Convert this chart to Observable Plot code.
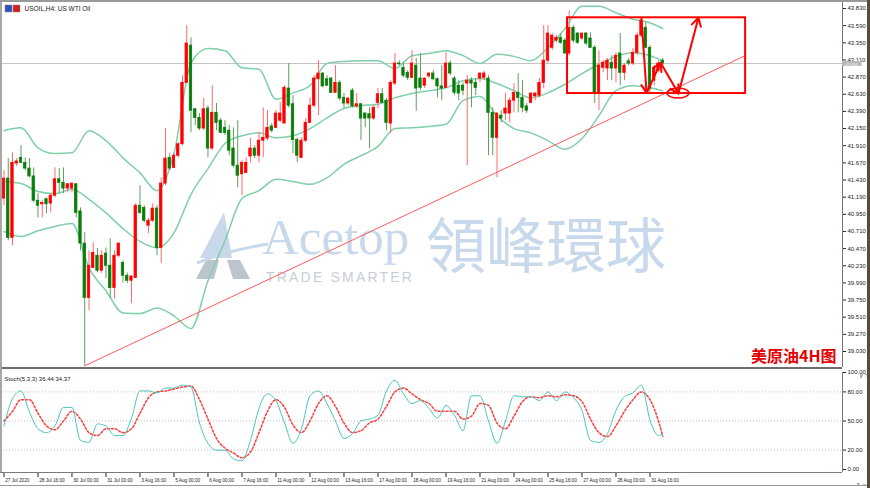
<!DOCTYPE html>
<html><head><meta charset="utf-8">
<script src="https://cdn.jsdelivr.net/npm/d3@7"></script>
<script src="https://cdn.jsdelivr.net/npm/@observablehq/plot@0.6"></script>
<style>
body{margin:0;background:#fff;}
#wrap{position:relative;width:870px;height:488px;overflow:hidden;background:#fff;font-family:"Liberation Sans",sans-serif;}
#wm{position:absolute;left:0;top:0;}
#main{position:absolute;left:0;top:0;}
#stoch{position:absolute;left:0;top:369px;}
.sep{position:absolute;left:0;top:367px;width:842px;height:2px;background:#6e6e6e;}
.bl{position:absolute;left:0;top:0;width:2px;height:472px;background:#a8a8a8;}
.bt{position:absolute;left:0;top:0;width:870px;height:2px;background:#9a9a9a;}
.br{position:absolute;left:867px;top:0;width:3px;height:488px;background:#5a4a3a;}
.bb{position:absolute;left:0;top:485px;width:867px;height:1px;background:#9a9a9a;}
</style></head><body><div id="wrap">
<svg id="wm" width="870" height="488">
  <polygon points="200,258 224,212 232,258" fill="#c9d8ea"/>
  <polygon points="196,279 206,260 219,260 214,279" fill="#bcc5ce"/>
  <polygon points="227,260 240,260 250,279 233,279" fill="#bcc5ce"/>
  <path d="M197,263 Q230,250 268,244" stroke="#c9d8ea" stroke-width="3" fill="none"/>
  <text x="262" y="254" font-family="Liberation Serif" font-size="51" fill="#c9d9ec">Acetop</text>
  <text x="266" y="282" font-family="Liberation Sans" font-size="14" letter-spacing="2.2" fill="#c8ced5">TRADE SMARTER</text>
  <text x="426" y="268" font-family="Noto Sans CJK TC" font-size="60" fill="#c9d9ec">領峰環球</text>
</svg>
<div id="main"></div><div id="stoch"></div>
<div class="sep"></div><div class="bl"></div><div class="bt"></div><div class="br"></div><div class="bb"></div>
</div>
<script>
// ---- data (H4 bars, index 0 = 27 Jul 2020 00:00) ----
const opens = [41.17,41.45,40.62,41.66,41.74,41.67,41.59,41.48,41.14,41.09,
41.16,41.10,41.21,41.44,41.39,41.31,41.31,41.37,40.99,40.54,
39.78,40.20,40.37,40.16,40.40,40.23,39.92,40.37,40.27,40.09,
40.02,40.06,41.07,41.04,40.79,40.86,41.03,40.48,41.38,41.74,
41.60,41.77,41.93,42.79,43.31,42.42,42.30,42.15,42.43,41.87,
42.37,42.26,42.16,42.12,41.87,41.63,41.51,41.53,41.76,41.87,
41.77,41.98,42.01,42.18,42.16,42.26,42.22,42.71,42.49,41.99,
41.74,41.98,42.23,42.47,42.84,42.92,42.84,42.85,42.65,42.79,
42.58,42.50,42.68,42.46,42.49,42.36,42.35,42.29,42.51,42.63,
42.54,42.22,42.78,43.06,43.00,42.93,42.86,43.03,42.85,42.75,
42.88,42.92,42.84,42.74,42.72,43.06,42.85,42.75,42.75,42.78,
42.82,42.79,42.85,42.86,42.85,42.37,42.02,42.33,42.36,42.36,
42.54,42.65,42.58,42.46,42.51,42.60,42.61,42.79,43.10,43.28,
43.38,43.42,43.38,43.20,43.56,43.48,43.41,43.48,43.41,43.28,
42.64,43.00,42.99,43.07,42.99,43.20,42.93,43.09,43.06,43.21,
43.45,43.56,43.28,42.82,42.96,43.10];
const highs = [41.56,41.73,41.81,41.73,41.91,41.74,41.73,41.60,41.24,41.14,
41.18,41.24,41.60,41.59,41.60,41.38,41.38,41.38,41.04,40.69,
40.44,40.55,40.47,40.44,40.48,40.61,40.44,40.55,40.30,40.13,
40.09,41.10,41.35,41.07,40.89,41.10,41.07,41.46,42.15,41.80,
41.80,41.95,42.89,43.59,43.42,42.43,42.36,42.57,42.47,42.75,
42.50,42.29,42.26,42.19,42.16,42.26,41.70,41.74,42.01,41.91,
42.09,42.44,42.40,42.22,42.40,42.51,42.75,43.06,42.61,42.02,
42.02,42.29,42.58,42.89,43.10,42.93,42.89,42.86,43.03,42.82,
42.64,42.58,42.71,42.64,42.50,42.37,42.44,42.47,42.71,42.71,
42.57,42.82,43.20,43.10,43.07,42.96,43.24,43.13,43.20,42.82,
42.93,42.96,42.86,43.03,43.21,43.10,42.88,42.82,42.79,42.89,
42.86,42.85,42.93,42.95,42.89,42.44,42.37,42.40,42.64,42.58,
42.78,42.92,42.82,42.50,42.65,42.65,42.85,43.59,43.59,43.48,
43.45,43.48,43.41,43.80,43.59,43.49,43.48,43.49,43.49,43.31,
43.24,43.10,43.13,43.17,43.21,43.48,43.06,43.13,43.27,43.49,
43.69,43.63,43.31,43.03,43.10,43.13];
const lows = [41.07,40.58,40.51,41.62,41.66,41.56,41.46,41.11,40.90,40.90,
40.96,40.97,41.18,41.24,41.24,41.25,41.25,40.90,40.44,38.83,
39.60,40.19,40.13,40.12,40.05,39.77,39.77,40.34,39.99,39.98,
39.70,40.06,40.95,40.83,40.68,40.83,40.37,40.26,41.35,41.56,
41.59,41.74,41.91,42.78,42.09,42.19,42.12,42.12,41.74,41.84,
42.12,42.08,42.05,41.77,41.60,41.32,41.21,41.52,41.67,41.73,
41.67,41.74,41.98,42.09,42.15,42.23,42.22,42.44,41.80,41.67,
41.73,41.95,42.22,42.44,42.33,42.72,42.74,42.64,42.65,42.54,
42.43,42.47,42.44,42.43,41.98,42.16,41.87,42.26,42.43,42.50,
42.12,42.08,42.75,43.02,42.86,42.82,42.85,42.39,42.68,42.71,
42.85,42.82,42.58,42.54,42.71,42.89,42.61,42.54,42.61,41.63,
42.44,42.61,42.79,42.82,41.77,41.77,41.46,42.23,42.26,42.23,
42.37,42.37,42.37,42.36,42.51,42.54,42.58,42.71,43.06,43.24,
43.35,43.33,43.20,43.17,43.35,43.33,43.38,43.31,43.27,42.50,
42.40,42.93,42.82,42.82,42.79,42.75,42.82,43.03,43.03,43.17,
43.42,43.27,42.64,42.75,42.93,43.03];
const closes = [41.45,40.62,41.67,41.69,41.67,41.59,41.48,41.14,41.07,41.11,
41.09,41.21,41.44,41.39,41.31,41.37,41.38,40.97,40.54,39.78,
40.23,40.41,40.16,40.37,40.23,39.92,40.37,40.54,40.09,40.02,
40.08,41.07,40.97,40.86,40.86,41.03,40.48,41.38,41.73,41.59,
41.77,41.93,42.79,43.34,42.40,42.30,42.15,42.42,41.87,42.37,
42.23,42.09,42.09,41.84,41.63,41.49,41.67,41.67,41.87,41.77,
41.98,42.02,42.16,42.12,42.36,42.36,42.72,42.47,41.99,41.77,
41.98,42.23,42.47,42.85,42.92,42.74,42.75,42.65,42.79,42.57,
42.50,42.57,42.46,42.49,42.29,42.29,42.29,42.44,42.63,42.51,
42.23,42.79,43.06,43.05,42.89,42.86,43.06,42.71,42.72,42.85,
42.92,42.84,42.74,42.71,43.06,42.92,42.65,42.64,42.68,42.82,
42.78,42.72,42.92,42.92,42.37,42.02,42.36,42.29,42.43,42.54,
42.65,42.58,42.44,42.40,42.64,42.64,42.79,43.10,43.48,43.45,
43.42,43.35,43.20,43.56,43.38,43.35,43.48,43.34,43.28,42.64,
43.03,43.07,43.10,42.99,43.17,42.93,43.03,43.06,43.21,43.45,
43.66,43.28,42.71,42.99,43.06,43.06];

// Bollinger bands (at these bar indices)
const bandIdx = [0,4,8,12,16,20,24,28,32,36,40,44,48,52,56,60,64,68,72,76,80,84,88,92,96,100,104,108,112,116,120,124,128,132,136,140,144,148,152,155];
const bandUpper = [42.12,42.16,41.88,41.80,41.81,42.12,41.98,41.74,41.53,41.28,41.80,43.07,43.27,43.24,43.00,42.98,42.56,42.65,42.75,43.06,43.09,43.10,43.10,42.99,43.17,43.20,43.24,43.17,43.06,43.19,43.16,43.10,43.28,43.55,43.86,43.86,43.77,43.68,43.63,43.55];
const bandMiddle = [41.41,41.38,41.27,41.24,41.30,41.16,40.97,40.75,40.57,40.48,40.69,41.23,41.59,41.94,42.05,42.09,42.02,42.05,42.15,42.30,42.43,42.47,42.49,42.58,42.64,42.68,42.72,42.82,42.85,42.78,42.68,42.58,42.65,42.77,42.92,43.05,43.16,43.21,43.17,43.10];
const bandLower = [40.71,40.64,40.72,40.78,40.82,40.20,39.88,39.57,39.56,39.64,39.53,39.35,40.02,40.58,41.17,41.28,41.44,41.41,41.37,41.46,41.65,41.77,41.90,42.15,42.16,42.18,42.21,42.54,42.60,42.33,42.15,42.09,41.98,41.86,42.01,42.33,42.68,42.75,42.72,42.68];

// Stochastic (5,3,3), read every second bar
const stochIdx = [0,2,4,6,8,10,12,14,16,18,20,22,24,26,28,30,32,34,36,38,40,42,44,46,48,50,52,54,56,58,60,62,64,66,68,70,72,74,76,78,80,82,84,86,88,90,92,94,96,98,100,102,104,106,108,110,112,114,116,118,120,122,124,126,128,130,132,134,136,138,140,142,144,146,148,150,152,154,155];
const stochMain = [45,73,81,59,42,38,45,64,64,30,28,47,45,35,35,53,81,81,79,84,84,87,85,48,27,20,20,11,9,30,63,78,71,48,27,42,76,81,68,50,32,37,50,52,56,81,92,78,68,71,63,53,66,56,40,76,76,50,27,50,76,75,75,71,80,71,80,74,61,30,28,37,61,75,79,87,51,35,36.44];
const stochSignal = [50,60,72,72,58,45,41,50,60,52,38,35,42,42,38,42,58,74,80,81,83,85,86,72,52,32,22,17,12,18,38,60,72,64,46,38,50,68,76,65,48,38,40,48,52,65,80,84,78,72,68,60,60,60,52,55,68,66,48,42,55,70,75,74,76,75,77,76,70,52,38,34,45,60,72,80,72,50,34.37];

// axis labels
const priceTicks = [43.83,43.59,43.35,43.11,42.87,42.63,42.39,42.15,41.91,41.67,41.43,41.19,40.95,40.71,40.47,40.23,39.99,39.75,39.51,39.27,39.03];
const stochTicks = [0,20,50,80,100];
const stochLevels = [20,50,80];
const timeLabels = ["27 Jul 2020","28 Jul 16:00","30 Jul 00:00","31 Jul 00:00","3 Aug 16:00","5 Aug 00:00","6 Aug 00:00","7 Aug 16:00","11 Aug 00:00","12 Aug 00:00","13 Aug 16:00","17 Aug 00:00","18 Aug 00:00","19 Aug 16:00","21 Aug 00:00","24 Aug 00:00","25 Aug 16:00","27 Aug 00:00","28 Aug 00:00","31 Aug 16:00"];
const timeLabelIdx = [0,8,16,24,32,40,48,56,64,72,80,88,96,104,112,120,128,136,144,152];

// annotations
const currentPrice = 43.06;
const trendX = [19, 174.4], trendY = [38.83, 43.17];
const boxX = [132.6, 174.5], boxY = [42.64, 43.70];
const pathX = [150.0, 151.2, 154.5, 158.7, 163.4];
const pathY = [43.69, 42.65, 43.07, 42.64, 43.70];
const ringX = 158.7, ringY = 42.64;

// ---- build ----
const bars = opens.map((o,i)=>({i,o,h:highs[i],l:lows[i],c:closes[i],up:closes[i]>=o}));
const xDomain = [-0.82, 197.3];
const mk = (idx, vals) => idx.map((x,k)=>({x, y: vals[k]}));
const segs = pathX.slice(1).map((x,k)=>({x1:pathX[k],y1:pathY[k],x2:x,y2:pathY[k+1]}));
const bandColor = "#7fcfaa";

const ring = (index, scales) => {
  const el = document.createElementNS("http://www.w3.org/2000/svg","ellipse");
  el.setAttribute("cx", scales.x(ringX));
  el.setAttribute("cy", scales.y(ringY));
  el.setAttribute("rx", 11); el.setAttribute("ry", 5);
  el.setAttribute("fill","none"); el.setAttribute("stroke","#ff0000"); el.setAttribute("stroke-width",1.5);
  return el;
};

const main = Plot.plot({
  width: 870, height: 367, marginLeft: 0, marginRight: 28, marginTop: 0, marginBottom: 0,
  style: {background: "transparent", fontFamily: "Liberation Sans", fontSize: "6px", color: "#222"},
  x: {domain: xDomain, axis: null},
  y: {domain: [38.806, 43.942], axis: "right", ticks: priceTicks, tickFormat: d3.format(".3f"), tickSize: 3, tickPadding: 2},
  marks: [
    Plot.ruleY([currentPrice], {stroke: "#c4c4c4"}),
    Plot.line(mk(bandIdx, bandUpper), {x:"x", y:"y", stroke: bandColor, curve: "monotone-x"}),
    Plot.line(mk(bandIdx, bandMiddle), {x:"x", y:"y", stroke: bandColor, curve: "monotone-x"}),
    Plot.line(mk(bandIdx, bandLower), {x:"x", y:"y", stroke: bandColor, curve: "monotone-x"}),
    Plot.ruleX(bars, {x:"i", y1:"l", y2:"h", stroke: d => d.up ? "#ff6b6b" : "#5f9f5f", strokeWidth: 1}),
    Plot.rect(bars, {x1: d => d.i - 0.28, x2: d => d.i + 0.28, y1: "o", y2: "c",
      fill: d => d.up ? "#ff0000" : "#0b7d0b", stroke: d => d.up ? "#ff0000" : "#0b7d0b", strokeWidth: 0.8}),
    Plot.line([{x:trendX[0],y:trendY[0]},{x:trendX[1],y:trendY[1]}], {x:"x", y:"y", stroke:"#ff5a5a", strokeWidth: 1}),
    Plot.rect([{x1:boxX[0],x2:boxX[1],y1:boxY[0],y2:boxY[1]}], {x1:"x1",x2:"x2",y1:"y1",y2:"y2", fill:"none", stroke:"#ff0000", strokeWidth: 2}),
    Plot.arrow(segs, {x1:"x1",y1:"y1",x2:"x2",y2:"y2", stroke:"#ff0000", strokeWidth: 2, headLength: 7}),
    ring,
    Plot.ruleX([xDomain[1]], {stroke: "#7a7a7a"}),
    Plot.ruleY([currentPrice], {x1: xDomain[1], x2: xDomain[1] + 4.6, stroke: "#b8b8b8", strokeWidth: 5}),
    Plot.text([currentPrice], {y: d => d, x: xDomain[1] + 0.7, dy: 1, text: d => d.toFixed(3), textAnchor: "start", fill: "#f4f4f4", fontSize: 4}),
    Plot.text(["USOIL,H4: US WTI Oil"], {frameAnchor: "top-left", dx: 24, dy: 6, text: d => d, fontSize: 6.5, textAnchor: "start", fill: "#222"}),
    Plot.text(["美原油4H图"], {frameAnchor: "bottom-right", dx: -6, dy: -6, text: d => d, fontSize: 16, fontWeight: "bold", fontFamily: "Noto Sans CJK SC", fill: "#e60000", textAnchor: "end"})
  ]
});
document.getElementById("main").appendChild(main);

// title icons
const svgMain = main.tagName.toLowerCase() === "svg" ? main : main.querySelector("svg");
const ns = "http://www.w3.org/2000/svg";
[[5,"#3050c0"],[13,"#d02020"]].forEach(([x,c])=>{
  const r = document.createElementNS(ns,"rect");
  r.setAttribute("x",x); r.setAttribute("y",5); r.setAttribute("width",7); r.setAttribute("height",7);
  r.setAttribute("fill",c); r.setAttribute("stroke","#888"); r.setAttribute("stroke-width",0.5);
  svgMain.appendChild(r);
});

const kData = mk(stochIdx, stochMain), dData = mk(stochIdx, stochSignal);
const stoch = Plot.plot({
  width: 870, height: 119, marginLeft: 0, marginRight: 28, marginTop: 0, marginBottom: 16,
  style: {background: "transparent", fontFamily: "Liberation Sans", fontSize: "6px", color: "#222"},
  x: {domain: xDomain, axis: "bottom", ticks: timeLabelIdx, tickFormat: () => "", tickSize: 5},
  y: {domain: [0, 100], range: [100, 3], axis: "right", ticks: stochTicks, tickFormat: d3.format(".2f"), tickSize: 3, tickPadding: 2},
  marks: [
    Plot.ruleY(stochLevels, {stroke: "#bdbdbd", strokeDasharray: "1,2"}),
    Plot.line(dData, {x:"x", y:"y", stroke: "#ff3b3b", strokeDasharray: "2,2", curve: "monotone-x"}),
    Plot.line(kData, {x:"x", y:"y", stroke: "#4cc4bb", strokeWidth: 1, curve: "monotone-x"}),
    Plot.ruleX([xDomain[1]], {y1: -3.1, y2: 100, stroke: "#7a7a7a"}),
    Plot.ruleY([-3.1], {stroke: "#7a7a7a"}),
    Plot.text(timeLabelIdx, {x: d => d, frameAnchor: "bottom", dy: 9, dx: 1.2, text: (d,k) => timeLabels[k], textAnchor: "start", fontSize: 4.7, fill: "#222"}),
    Plot.text(["Stoch(5,3,3) 36.44 34.37"], {frameAnchor: "top-left", dx: 4, dy: 7, text: d => d, fontSize: 6, textAnchor: "start", fill: "#222"})
  ]
});
document.getElementById("stoch").appendChild(stoch);
</script>
</body></html>
